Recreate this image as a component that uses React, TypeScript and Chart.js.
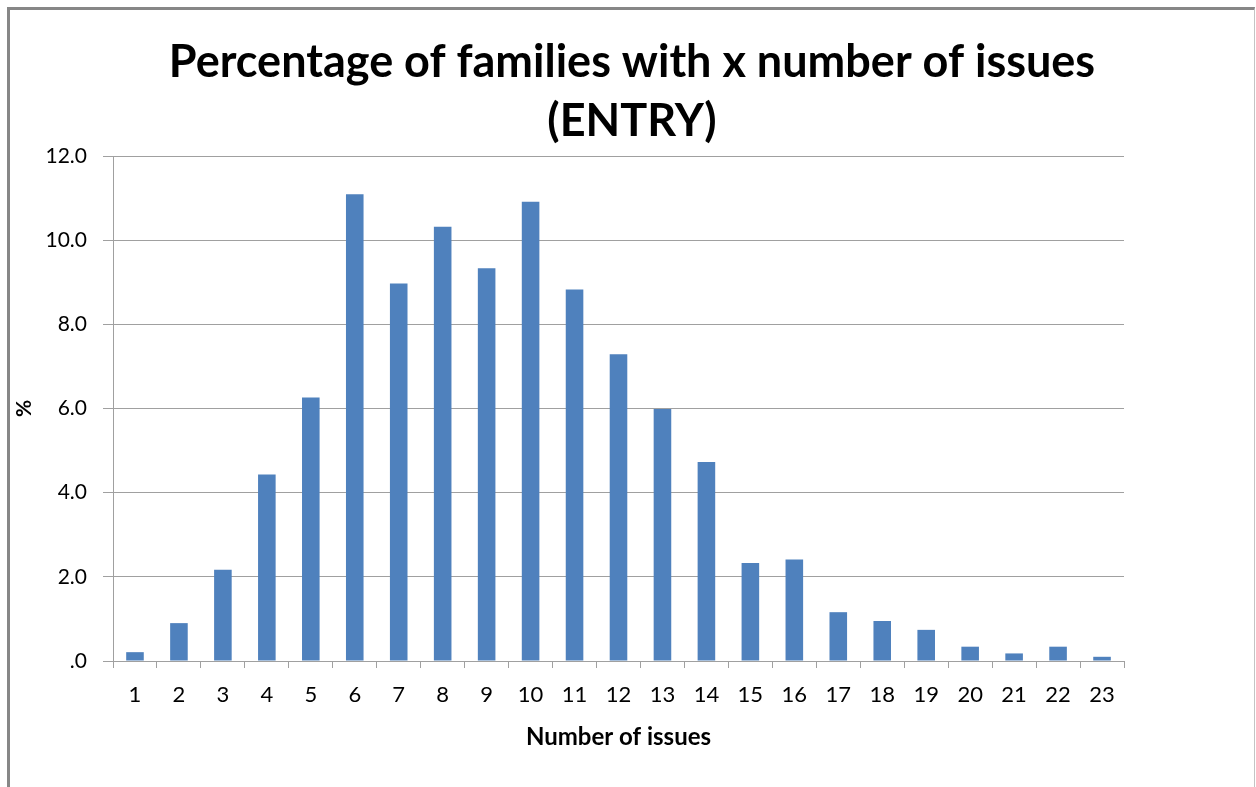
import React, { useEffect, useRef } from "react";
import { Chart, registerables } from "chart.js";

Chart.register(...registerables);

const categories = ["1", "2", "3", "4", "5", "6", "7", "8", "9", "10", "11", "12", "13", "14", "15", "16", "17", "18", "19", "20", "21", "22", "23"];
const percentages = [0.21, 0.9, 2.17, 4.43, 6.26, 11.09, 8.97, 10.32, 9.33, 10.91, 8.83, 7.29, 5.99, 4.73, 2.33, 2.41, 1.16, 0.95, 0.74, 0.34, 0.18, 0.34, 0.1];
const titleLines = ["Percentage of families with x number of issues", "(ENTRY)"];
const xTitle = "Number of issues";
const yTitle = "%";
const yMin = 0;
const yMax = 12;
const yStep = 2;

const FONT = "Lato, 'Noto Sans', sans-serif";
const GRID = "#a0a0a0";

const centerTitle = {
  id: "centerTitle",
  afterLayout(chart: any) {
    const t = chart.titleBlock;
    if (t) {
      t.left = 8;
      t.right = 1256;
      t.width = 1248;
    }
  },
};

export default function App() {
  const ref = useRef<HTMLCanvasElement | null>(null);

  useEffect(() => {
    if (!ref.current) return;
    const chart = new Chart(ref.current, {
      type: "bar",
      data: {
        labels: categories,
        datasets: [
          {
            data: percentages,
            backgroundColor: "#4F81BD",
            borderWidth: 0,
            barPercentage: 0.4,
            categoryPercentage: 1,
          },
        ],
      },
      plugins: [centerTitle],
      options: {
        responsive: false,
        animation: false,
        layout: { padding: { left: 0, right: 132, top: 0, bottom: 0 } },
        plugins: {
          legend: { display: false },
          tooltip: { enabled: false },
          title: {
            display: true,
            text: titleLines,
            color: "#000",
            font: { family: FONT, size: 45, weight: "bold", lineHeight: 59 / 45 },
            padding: { top: 32.5, bottom: 5.5 },
          },
        },
        scales: {
          x: {
            offset: true,
            grid: {
              offset: true,
              drawOnChartArea: false,
              drawTicks: true,
              tickLength: 7,
              color: GRID,
            },
            border: { color: GRID, width: 1 },
            ticks: {
              color: "#000",
              font: { family: FONT, size: 22 },
              padding: 14,
              maxRotation: 0,
              autoSkip: false,
            },
            title: {
              display: true,
              text: xTitle,
              color: "#000",
              font: { family: FONT, size: 24, weight: "bold" },
              padding: { top: 0, bottom: 35.6 },
            },
            afterFit: (s: any) => {
              s.height = 787 - 661;
            },
          },
          y: {
            min: yMin,
            max: yMax,
            grid: {
              color: GRID,
              drawTicks: true,
              tickLength: 10,
            },
            border: { color: GRID, width: 1 },
            ticks: {
              stepSize: yStep,
              color: "#000",
              font: { family: FONT, size: 21 },
              padding: 16,
              callback: (v: any) => (Number(v) === 0 ? ".0" : Number(v).toFixed(1)),
            },
            title: {
              display: true,
              text: yTitle,
              color: "#000",
              font: { family: FONT, size: 21, weight: "bold" },
              padding: { top: 12, bottom: 0 },
            },
            afterFit: (s: any) => {
              s.width = 113;
            },
          },
        },
      },
    });
    return () => chart.destroy();
  }, []);

  return (
    <div
      style={{
        position: "fixed",
        left: 0,
        top: 0,
        width: 1256,
        height: 787,
        background: "#fff",
        overflow: "hidden",
      }}
    >
      <canvas
        ref={ref}
        width={1256}
        height={787}
        style={{ position: "absolute", left: 0, top: 0, width: 1256, height: 787 }}
      />
      <div
        style={{
          position: "absolute",
          left: 7,
          top: 7,
          width: 1256 - 7 - 3 - 1 - 1,
          height: 800,
          borderTop: "3px solid #878787",
          borderLeft: "3px solid #878787",
          borderRight: "1px solid #c4c4c4",
          pointerEvents: "none",
        }}
      />
    </div>
  );
}
